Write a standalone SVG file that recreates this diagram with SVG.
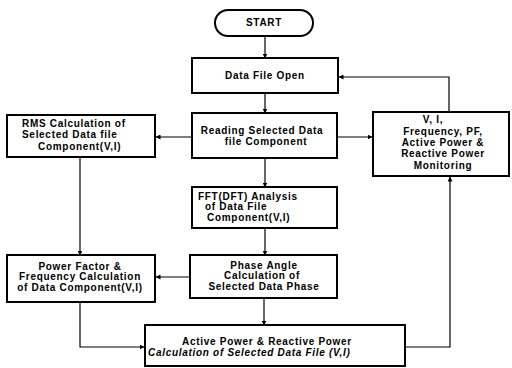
<svg xmlns="http://www.w3.org/2000/svg" width="512" height="368" viewBox="0 0 512 368">
<defs>
<marker id="ah" viewBox="0 0 10 10" refX="9" refY="5" markerWidth="5" markerHeight="5" orient="auto" markerUnits="userSpaceOnUse">
<path d="M0,0 L10,5 L0,10 z" fill="#000"/>
</marker>
<style>
.b{fill:#fff;stroke:#000;stroke-width:2}
.t{font-family:"Liberation Sans",Arial,sans-serif;font-size:10px;font-weight:bold;letter-spacing:0.7px;fill:#000}
.c{text-anchor:middle}
.l{fill:none;stroke:#000;stroke-width:1.2;marker-end:url(#ah)}
</style>
</defs>
<rect width="512" height="368" fill="#fff"/>
<g id="connectors">
<path class="l" d="M265,36 V58"/>
<path class="l" d="M265,93 V113"/>
<path class="l" d="M192,137 H156"/>
<path class="l" d="M337,137 H372"/>
<path class="l" d="M449,112 V77 H339"/>
<path class="l" d="M265,158 V187"/>
<path class="l" d="M265,228 V255"/>
<path class="l" d="M80,157 V255"/>
<path class="l" d="M190,277 H156"/>
<path class="l" d="M80,302 V347 H144"/>
<path class="l" d="M264,298 V325"/>
<path class="l" d="M405,347 H450 V177"/>
</g>
<g id="start">
<rect class="b" x="215" y="10" width="98" height="26" rx="13"/>
<text class="t c" x="264" y="26">START</text>
</g>
<g id="open">
<rect class="b" x="192" y="58" width="146" height="35"/>
<text class="t c" x="265" y="79">Data File Open</text>
</g>
<g id="reading">
<rect class="b" x="192" y="113" width="145" height="45"/>
<text class="t c" x="262" y="134">Reading Selected Data</text>
<text class="t c" x="266" y="145">file Component</text>
</g>
<g id="rms">
<rect class="b" x="7" y="115" width="148" height="42"/>
<text class="t" x="22" y="127">RMS Calculation of</text>
<text class="t" x="22" y="138">Selected Data file</text>
<text class="t" x="38" y="150">Component(V,I)</text>
</g>
<g id="monitor">
<rect class="b" x="373" y="112" width="136" height="64"/>
<text class="t c" x="433" y="123">V, I,</text>
<text class="t c" x="443" y="135">Frequency, PF,</text>
<text class="t c" x="443" y="146">Active Power &amp;</text>
<text class="t c" x="443" y="157">Reactive Power</text>
<text class="t c" x="443" y="169">Monitoring</text>
</g>
<g id="fft">
<rect class="b" x="192" y="187" width="145" height="41"/>
<text class="t" x="198" y="200">FFT(DFT) Analysis</text>
<text class="t" x="205" y="210">of  Data File</text>
<text class="t" x="207" y="221">Component(V,I)</text>
</g>
<g id="phase">
<rect class="b" x="190" y="255" width="147" height="43"/>
<text class="t c" x="264" y="269">Phase Angle</text>
<text class="t c" x="262" y="279">Calculation of</text>
<text class="t c" x="264" y="290">Selected Data Phase</text>
</g>
<g id="pf">
<rect class="b" x="7" y="255" width="148" height="47"/>
<text class="t c" x="80" y="270">Power Factor &amp;</text>
<text class="t c" x="80" y="280">Frequency Calculation</text>
<text class="t c" x="80" y="291">of Data Component(V,I)</text>
</g>
<g id="active">
<rect class="b" x="145" y="325" width="260" height="41"/>
<text class="t c" x="267" y="345">Active Power &amp; Reactive Power</text>
<text class="t" x="148" y="356" font-style="italic">Calculation of Selected Data File (V,I)</text>
</g>
</svg>
